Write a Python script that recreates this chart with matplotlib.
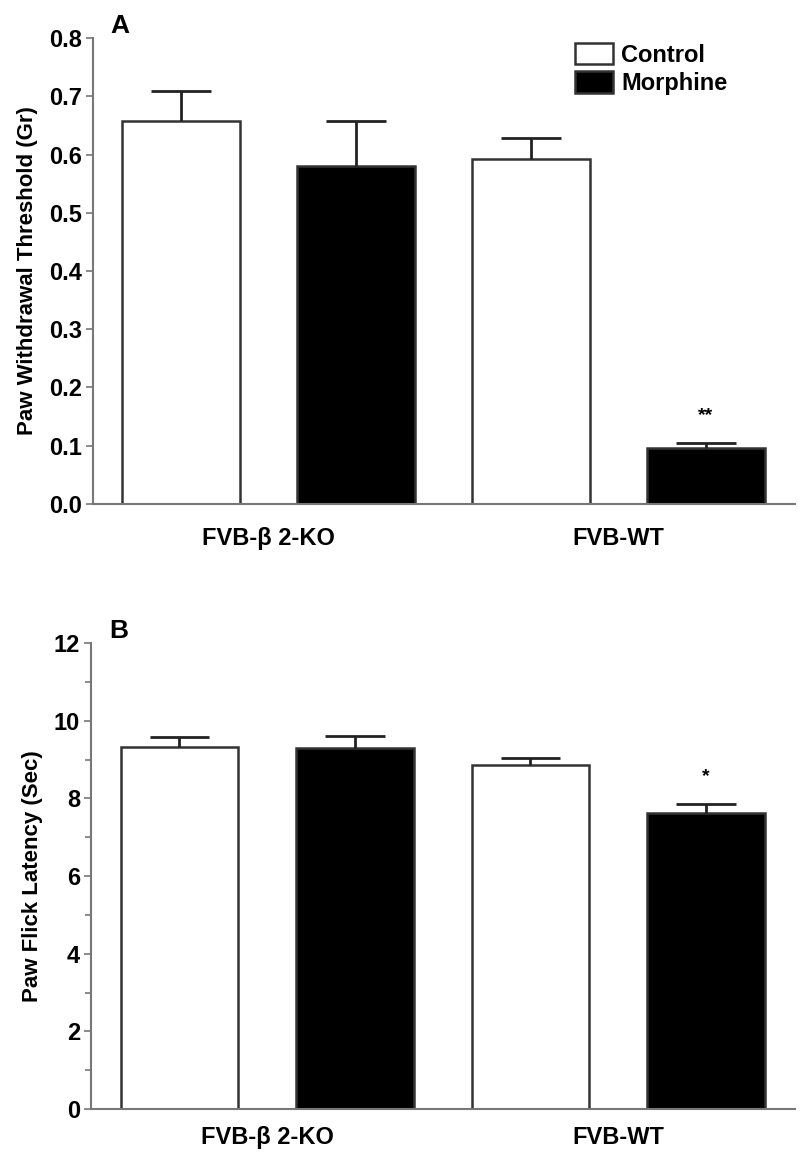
import matplotlib.pyplot as plt
import numpy as np

plt.rcParams['font.family'] = ['Liberation Sans', 'DejaVu Sans']
plt.rcParams['font.weight'] = 'bold'
plt.rcParams['axes.labelweight'] = 'bold'

# Panel A: paw withdrawal threshold (Gr)
a_values = [0.658, 0.580, 0.593, 0.095]
a_errors = [0.052, 0.077, 0.035, 0.010]
# Panel B: paw flick latency (Sec)
b_values = [9.33, 9.30, 8.85, 7.63]
b_errors = [0.24, 0.30, 0.18, 0.22]

groups = ['FVB-\u03b2 2-KO', 'FVB-WT']
legend_labels = ['Control', 'Morphine']
bar_colors = ['white', 'black', 'white', 'black']
a_stars = ['', '', '', '**']
b_stars = ['', '', '', '*']

fig = plt.figure(figsize=(8, 11.58), dpi=100)
axA = fig.add_axes([0.116, 0.565, 0.878, 0.402])
axB = fig.add_axes([0.114, 0.0423, 0.880, 0.4024])

x = np.arange(4)
edge = '#333333'
cap = 0.17


def draw_panel(ax, values, errors, stars, ylim, yticks, ylabel, letter, fmt, xpad):
    bars = ax.bar(x, values, width=0.67, color=bar_colors, edgecolor=edge, linewidth=1.8, zorder=2)
    tops = np.array(values) + np.array(errors)
    # upper error bars only
    ax.vlines(x, values, tops, color='#222222', linewidth=2, zorder=3)
    ax.hlines(tops, x - cap, x + cap, color='#222222', linewidth=2, zorder=3)
    for xi, t, s in zip(x, tops, stars):
        if s:
            ax.text(xi, t + ylim[1] * 0.04, s, ha='center', va='bottom', fontsize=14)
    ax.set_xlim(-0.503, 3.509)
    ax.set_ylim(*ylim)
    ax.set_yticks(yticks)
    ax.set_yticklabels([fmt.format(t) for t in yticks], fontsize=17)
    ax.set_xticks([0.5, 2.5])
    ax.set_xticklabels(groups, fontsize=17)
    ax.tick_params(axis='x', length=0, pad=xpad)
    ax.tick_params(axis='y', length=5, width=1.2, color='#777777', pad=3)
    for sp in ['top', 'right']:
        ax.spines[sp].set_visible(False)
    for sp in ['left', 'bottom']:
        ax.spines[sp].set_color('#777777')
        ax.spines[sp].set_linewidth(1.5)
    ax.set_ylabel(ylabel, fontsize=16, labelpad=8)
    ax.text(0.025, 1.0, letter, transform=ax.transAxes, fontsize=19, ha='left', va='bottom')
    return bars


bars = draw_panel(axA, a_values, a_errors, a_stars, (0, 0.8), np.arange(0, 0.81, 0.1),
                  'Paw Withdrawal Threshold (Gr)', 'A', '{:.1f}', 17)
draw_panel(axB, b_values, b_errors, b_stars, (0, 12), np.arange(0, 13, 2),
           'Paw Flick Latency (Sec)', 'B', '{:.0f}', 12)
axB.set_yticks(np.arange(1, 12, 2), minor=True)
axB.tick_params(axis='y', which='minor', length=4, width=1.2, color='#777777')

leg = axA.legend([bars[0], bars[1]], legend_labels, loc='upper left', bbox_to_anchor=(0.67, 1.015),
                 frameon=False, fontsize=17, handlelength=1.6, handleheight=1.0,
                 handletextpad=0.35, labelspacing=0.2, borderaxespad=0.1)

fig.savefig('out.png', dpi=100, facecolor='white')
